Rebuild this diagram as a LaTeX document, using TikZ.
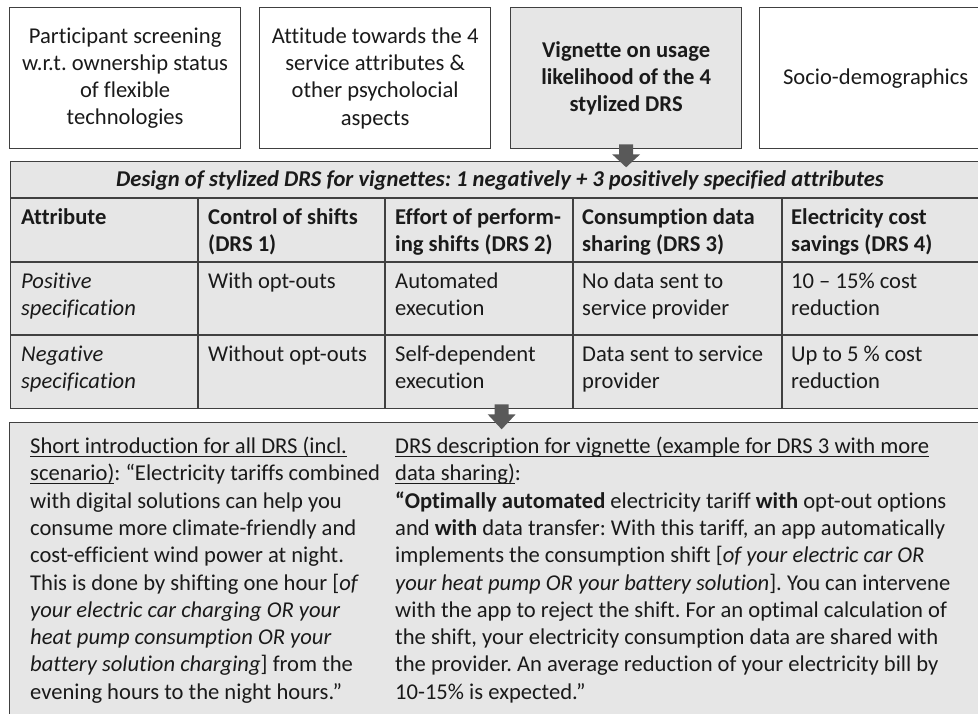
\documentclass[tikz,border=0pt]{standalone}
\usepackage{fontspec}
\setmainfont{Carlito}[Ligatures=CommonOff]
\usetikzlibrary{calc}

\definecolor{panelgray}{HTML}{E6E6E6}
\definecolor{edgegray}{HTML}{404040}
\definecolor{arrowgray}{HTML}{595959}
\definecolor{inkgray}{HTML}{1A1A1A}

\newcommand\drsfont{\fontsize{22.6}{27.3}\selectfont}
% underline placed just under the baseline
\newcommand\udl[1]{\setbox0\hbox{#1}\rlap{\rule[-3.6pt]{\wd0}{1.1pt}}\box0}
\frenchspacing

\begin{document}
\begin{tikzpicture}[x=1pt, y=-1pt,
  every node/.style={font=\drsfont, text=inkgray},
  topbox/.style={draw=edgegray, line width=1.3pt, minimum width=231pt,
    minimum height=141pt, align=center, anchor=north west, inner sep=0pt},
  panel/.style={draw=edgegray, line width=1.3pt, fill=panelgray,
    anchor=north west, inner sep=0pt},
  cell/.style={anchor=north west, inner sep=0pt, align=left},
  gridline/.style={draw=edgegray, line width=1.3pt},
  blockarrow/.style={fill=arrowgray, draw=none}
]
\useasboundingbox (0,0) rectangle (978,714);
\begin{scope}
\clip (0,0) rectangle (978,714);

% questionnaire blocks
\node[topbox] (screen) at (9,7)
  {Participant screening\\w.r.t. ownership status\\of flexible\\technologies};
\node[topbox] (attitude) at (259,7)
  {Attitude towards the 4\\service attributes \&\\other psycholocial\\aspects};
\node[topbox, fill=panelgray, font=\drsfont\bfseries] (vignette) at (510,7)
  {Vignette on usage\\likelihood of the 4\\stylized DRS};
\node[topbox, minimum width=232pt] (socio) at (759,7) {Socio-demographics};

% attribute table
\node[panel, minimum width=982pt, minimum height=247pt] (design) at (10,161) {};
\coordinate (r1) at (10,198);
\coordinate (r2) at (10,262);
\coordinate (r3) at (10,335);
\draw[gridline] (r1) -- ++(982,0);
\draw[gridline] (r2) -- ++(982,0);
\draw[gridline] (r3) -- ++(982,0);
\foreach \cx in {198,385,573,782} \draw[gridline] (\cx,198) -- (\cx,408);

\node[font=\drsfont\bfseries\itshape] (title) at (500,180)
  {Design of stylized DRS for vignettes: 1 negatively + 3 positively specified attributes};

\begin{scope}[every node/.append style={cell}]
\node[font=\drsfont\bfseries] (h0) at (21,205) {\strut Attribute};
\node[font=\drsfont\bfseries] (h1) at (208,205) {\strut Control of shifts\\(DRS 1)};
\node[font=\drsfont\bfseries] (h2) at (395,205) {\strut Effort of perform-\\ing shifts (DRS 2)};
\node[font=\drsfont\bfseries] (h3) at (582,205) {\strut Consumption data\\sharing (DRS 3)};
\node[font=\drsfont\bfseries] (h4) at (791,205) {\strut Electricity cost\\savings (DRS 4)};

\node[font=\drsfont\itshape] (p0) at (21,269) {\strut Positive\\specification};
\node (p1) at (208,269) {\strut With opt-outs};
\node (p2) at (395,269) {\strut Automated\\execution};
\node (p3) at (582,269) {\strut No data sent to\\service provider};
\node (p4) at (791,269) {\strut 10 – 15\% cost\\reduction};

\node[font=\drsfont\itshape] (n0) at (21,342) {\strut Negative\\specification};
\node (n1) at (208,342) {\strut Without opt-outs};
\node (n2) at (395,342) {\strut Self-dependent\\execution};
\node (n3) at (582,342) {\strut Data sent to service\\provider};
\node (n4) at (791,342) {\strut Up to 5 \% cost\\reduction};
\end{scope}

% vignette text panel
\node[panel, minimum width=990pt, minimum height=320pt] (explain) at (9,422) {};

\node[cell] (intro) at (30,434.2)
  {\strut\udl{Short introduction for all DRS (incl.}\\
   \udl{scenario)}: “Electricity tariffs combined\\
   with digital solutions can help you\\
   consume more climate-friendly and\\
   cost-efficient wind power at night.\\
   This is done by shifting one hour [\textit{of}\\
   \textit{your electric car charging OR your}\\
   \textit{heat pump consumption OR your}\\
   \textit{battery solution charging}] from the\\
   evening hours to the night hours.”};

\node[cell] (example) at (395,434.2)
  {\strut\udl{DRS description for vignette (example for DRS 3 with more}\\
   \udl{data sharing)}:\\
   \textbf{“Optimally automated} electricity tariff \textbf{with} opt-out options\\
   and \textbf{with} data transfer: With this tariff, an app automatically\\
   implements the consumption shift [\textit{of your electric car OR}\\
   \textit{your heat pump OR your battery solution}]. You can intervene\\
   with the app to reject the shift. For an optimal calculation of\\
   the shift, your electricity consumption data are shared with\\
   the provider. An average reduction of your electricity bill by\\
   10-15\% is expected.”};

% block arrows between the stages
\fill[blockarrow]
  ($(vignette.south)+(-7,-5)$) -- ($(vignette.south)+(7,-5)$) --
  ($(vignette.south)+(7,5)$) -- ($(vignette.south)+(14,5)$) --
  ($(vignette.south)+(0,18)$) -- ($(vignette.south)+(-14,5)$) --
  ($(vignette.south)+(-7,5)$) -- cycle;
\fill[blockarrow]
  ($(design.south)+(-7,-5)$) -- ($(design.south)+(7,-5)$) --
  ($(design.south)+(7,5)$) -- ($(design.south)+(14,5)$) --
  ($(design.south)+(0,20)$) -- ($(design.south)+(-14,5)$) --
  ($(design.south)+(-7,5)$) -- cycle;
\end{scope}
\end{tikzpicture}
\end{document}
